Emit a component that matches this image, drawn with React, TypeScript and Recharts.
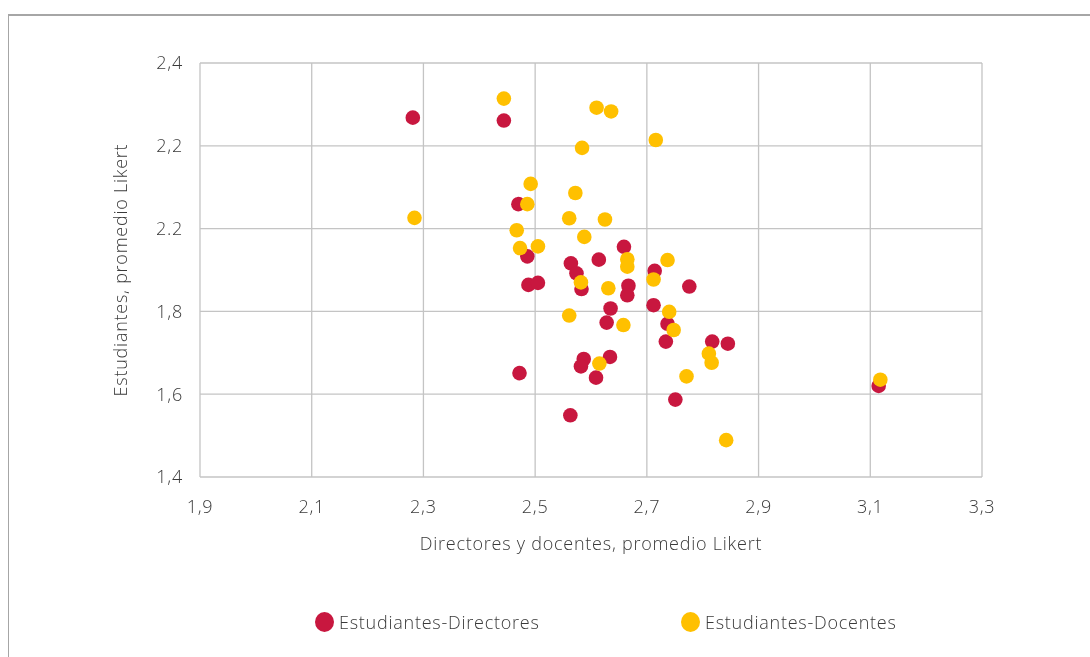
import React from 'react';
import { ScatterChart, Scatter, XAxis, YAxis, CartesianGrid } from 'recharts';

// Estudiantes vs directores: [directores/docentes, estudiantes]
const directoresX = [2.281, 2.444, 2.470, 2.486, 2.488, 2.505, 2.564, 2.574, 2.583, 2.614, 2.659, 2.667, 2.665, 2.635, 2.628, 2.714, 2.712, 2.776, 2.737, 2.734, 2.817, 2.845, 2.587, 2.582, 2.634, 2.609, 2.472, 2.563, 2.751, 3.115];
const directoresY = [2.268, 2.261, 2.059, 1.933, 1.864, 1.869, 1.916, 1.892, 1.854, 1.925, 1.956, 1.862, 1.839, 1.807, 1.773, 1.898, 1.815, 1.860, 1.770, 1.727, 1.727, 1.722, 1.685, 1.667, 1.690, 1.640, 1.651, 1.549, 1.587, 1.620];

const docentesX = [2.444, 2.610, 2.636, 2.716, 2.584, 2.492, 2.572, 2.486, 2.284, 2.561, 2.625, 2.467, 2.588, 2.473, 2.505, 2.665, 2.665, 2.737, 2.712, 2.582, 2.631, 2.561, 2.740, 2.748, 2.658, 2.615, 2.811, 2.816, 2.771, 2.842, 3.118];
const docentesY = [2.314, 2.292, 2.283, 2.214, 2.195, 2.108, 2.086, 2.059, 2.026, 2.025, 2.022, 1.996, 1.980, 1.953, 1.957, 1.926, 1.908, 1.924, 1.877, 1.870, 1.856, 1.790, 1.799, 1.755, 1.767, 1.674, 1.698, 1.676, 1.643, 1.489, 1.635];

const xTicks = [1.9, 2.1, 2.3, 2.5, 2.7, 2.9, 3.1, 3.3];
const yTicks = [1.4, 1.6, 1.8, 2.0, 2.2, 2.4];
const yTickLabels = ['1,4', '1,6', '1,8', '2.2', '2,2', '2,4'];

const seriesNames = ['Estudiantes-Directores', 'Estudiantes-Docentes'];
const seriesColors = ['#c8173f', '#ffc000'];

const toPoints = (xs: number[], ys: number[]) => xs.map((x, i) => ({ x, y: ys[i] }));
const directores = toPoints(directoresX, directoresY);
const docentes = toPoints(docentesX, docentesY);

const FONT = '"Open Sans", "Noto Sans", sans-serif';
const TEXT = '#3a3a3a';
const FS = 18;
const LS = 0.75;

const dot = (color: string) => (props: any) =>
  <circle cx={props.cx} cy={props.cy} r={7.3} fill={color} />;

const XTitle = (props: any) => {
  const { x, y, width } = props.viewBox;
  return (
    <text x={x + width / 2} y={y + 66} textAnchor="middle" dominantBaseline="central"
      fill={TEXT} fontSize={FS} fontFamily={FONT} fontWeight={300} letterSpacing={LS}>
      Directores y docentes, promedio Likert
    </text>
  );
};

const YTitle = (props: any) => {
  const { x, y, height } = props.viewBox;
  const cx = x;
  const cy = y + height / 2;
  return (
    <text x={cx} y={cy} transform={`rotate(-90, ${cx}, ${cy})`} textAnchor="middle"
      dominantBaseline="central" fill={TEXT} fontSize={FS} fontFamily={FONT} fontWeight={300} letterSpacing={LS}>
      Estudiantes, promedio Likert
    </text>
  );
};

const tickStyle = { fill: TEXT, fontSize: FS, fontFamily: FONT, fontWeight: 300, letterSpacing: LS };

export default function App() {
  return (
    <div style={{ position: 'relative', width: 1082, height: 640, fontFamily: FONT }}>
      <div style={{
        position: 'fixed', left: 8, top: 14, width: 1200, height: 800,
        borderTop: '2px solid #a6a6a6', borderLeft: '1px solid #a6a6a6',
      }} />
      <ScatterChart width={1082} height={640} margin={{ top: 55, right: 108, left: 112, bottom: 91 }}>
        <CartesianGrid stroke="#c4c4c4" strokeWidth={1.3} />
        <XAxis type="number" dataKey="x" domain={[1.9, 3.3]} ticks={xTicks}
          tickFormatter={(v: number) => v.toFixed(1).replace('.', ',')}
          axisLine={false} tickLine={false} tickMargin={17} height={80}
          tick={tickStyle} label={<XTitle />} />
        <YAxis type="number" dataKey="y" domain={[1.4, 2.4]} ticks={yTicks}
          tickFormatter={(v: number) => yTickLabels[yTicks.findIndex((t) => Math.abs(t - v) < 1e-6)]}
          axisLine={false} tickLine={false} tickMargin={11} width={80}
          tick={tickStyle} label={<YTitle />} />
        <Scatter name={seriesNames[0]} data={directores} shape={dot(seriesColors[0])} isAnimationActive={false} />
        <Scatter name={seriesNames[1]} data={docentes} shape={dot(seriesColors[1])} isAnimationActive={false} />
      </ScatterChart>
      {seriesNames.map((name, i) => (
        <div key={name} style={{
          position: 'absolute', top: 602, left: i === 0 ? 307 : 673,
          display: 'flex', alignItems: 'center', color: TEXT, fontSize: FS,
          fontWeight: 300, letterSpacing: LS,
        }}>
          <span style={{
            display: 'inline-block', width: 19, height: 20, borderRadius: '50%',
            background: seriesColors[i], marginRight: 5,
          }} />
          {name}
        </div>
      ))}
    </div>
  );
}
